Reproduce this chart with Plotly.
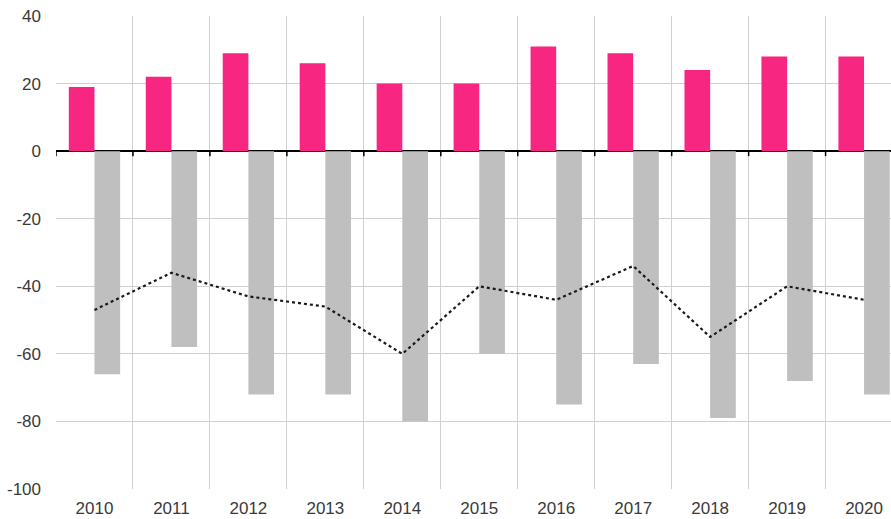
import plotly.graph_objects as go

years = ['2010', '2011', '2012', '2013', '2014', '2015', '2016', '2017', '2018', '2019', '2020']
positive = [19, 22, 29, 26, 20, 20, 31, 29, 24, 28, 28]
negative = [-66, -58, -72, -72, -80, -60, -75, -63, -79, -68, -72]
balance = [-47, -36, -43, -46, -60, -40, -44, -34, -55, -40, -44]

y_ticks = [-100, -80, -60, -40, -20, 0, 20, 40]

PINK = '#F62681'
GREY = '#BFBFBF'
GRID = '#D0D0D0'
TEXT = '#3a3a3a'

fig = go.Figure()

fig.add_trace(go.Bar(x=years, y=positive, marker=dict(color=PINK, line=dict(width=0)), name='positive'))
fig.add_trace(go.Bar(x=years, y=negative, marker=dict(color=GREY, line=dict(width=0)), name='negative'))
fig.add_trace(go.Scatter(
    x=years, y=balance, mode='lines', name='balance',
    line=dict(color='#1a1a1a', width=2.2, dash='dot')
))

# small tick marks hanging from the zero line at category boundaries
for i in range(len(years)):
    fig.add_shape(
        type='line', xref='x', yref='y',
        x0=i - 0.5, x1=i - 0.5,
        ysizemode='pixel', yanchor=0, y0=0, y1=-5,
        line=dict(color='black', width=1.5),
    )

fig.update_layout(
    width=891, height=519,
    margin=dict(l=56, r=0, t=16, b=30),
    barmode='group',
    bargap=0.333,
    bargroupgap=0,
    showlegend=False,
    paper_bgcolor='white',
    plot_bgcolor='white',
    font=dict(family='Liberation Sans, Arial, sans-serif', size=17, color=TEXT),
)

fig.update_xaxes(
    type='category',
    range=[-0.5, 10.35],
    tickson='boundaries',
    showgrid=True, gridcolor=GRID, gridwidth=1,
    ticks='', showline=False, zeroline=False,
    ticklabelstandoff=7,
    automargin=False,
)

fig.update_yaxes(
    range=[-100, 40],
    tickvals=y_ticks,
    ticktext=[str(v) for v in y_ticks],
    showgrid=True, gridcolor=GRID, gridwidth=1,
    zeroline=True, zerolinecolor='black', zerolinewidth=2,
    showline=False, ticks='',
    ticklabelstandoff=14,
    automargin=False,
)

# remove the page's default body margin so the chart sits at the window's corner
post = (
    "document.body.style.margin='0';"
    "document.body.style.overflow='hidden';"
    "Plotly.relayout('{plot_id}', {width: 891, height: 519});"
)

fig.write_html("out.html", post_script=post, config={'displayModeBar': False})
